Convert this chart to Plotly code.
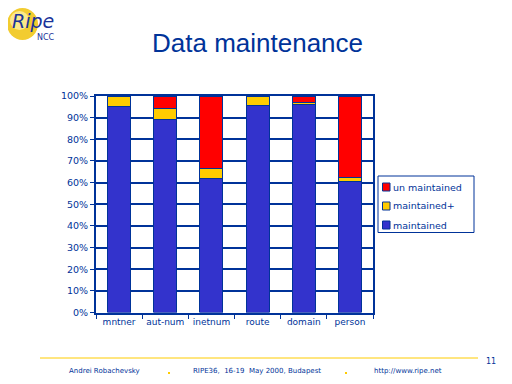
import plotly.graph_objects as go

categories = ["mntner", "aut-num", "inetnum", "route", "domain", "person"]
maintained = [95, 89, 62, 95.5, 96, 60.5]
maintained_plus = [5, 5, 4.5, 4.5, 1.2, 2]
unmaintained = [0, 6, 33.5, 0, 2.8, 37.5]
y_ticks = [0, 10, 20, 30, 40, 50, 60, 70, 80, 90, 100]
y_labels = [f"{v}%" for v in y_ticks]

NAVY = "#003399"
OFF = 8  # page body margin
W, H = 512 - OFF, 384 - OFF


def px(x):
    return (x - OFF) / W


def py(y):
    return 1 - (y - OFF) / H


series = [("maintained", maintained, "#3333CC"),
          ("maintained+", maintained_plus, "#FFCC00"),
          ("un maintained", unmaintained, "#FF0000")]

fig = go.Figure()
for name, vals, col in series:
    fig.add_trace(go.Bar(x=categories, y=vals, name=name, width=0.5, showlegend=False,
                         marker=dict(color=col, line=dict(color=NAVY, width=1))))

fig.update_layout(
    width=W, height=H, barmode="stack",
    paper_bgcolor="white", plot_bgcolor="white",
    margin=dict(l=0, r=0, t=0, b=0),
    font=dict(family="DejaVu Sans, Liberation Sans", color=NAVY),
    xaxis=dict(domain=[px(96), px(373)], showgrid=False, showline=True, automargin=False,
               linecolor=NAVY, linewidth=2, mirror=True, ticks="outside", tickangle=0,
               tickson="boundaries", ticklen=4, tickcolor=NAVY, tickwidth=1,
               tickfont=dict(size=9, color=NAVY)),
    yaxis=dict(domain=[py(312.5), py(96)], range=[0, 100], automargin=False,
               tickvals=y_ticks, ticktext=y_labels, showgrid=True,
               gridcolor=NAVY, gridwidth=1.5, showline=True, linecolor=NAVY,
               linewidth=2, mirror=True, ticks="outside", ticklen=4,
               tickcolor=NAVY, tickfont=dict(size=9.5, color=NAVY), zeroline=False),
)


def ann(text, x, y, size, xanchor="center", color=NAVY, family=None):
    f = dict(size=size, color=color)
    if family:
        f["family"] = family
    fig.add_annotation(text=text, x=px(x), y=py(y), xref="paper", yref="paper",
                       showarrow=False, xanchor=xanchor, yanchor="middle", font=f,
                       borderpad=0)


def rect(x0, x1, y0, y1, fill, line=None):
    fig.add_shape(type="rect", xref="paper", yref="paper", x0=px(x0), x1=px(x1),
                  y0=py(y1), y1=py(y0), fillcolor=fill,
                  line=line if line else dict(width=0))


# Legend (custom)
rect(378, 474, 176, 232.5, "white", dict(color=NAVY, width=1))
for i, (name, vals, col) in enumerate(reversed(series)):
    yc = 187 + i * 19
    rect(382.5, 390, yc - 4, yc + 4, col, dict(color=NAVY, width=1))
    ann(name, 392, yc, 9.5, xanchor="left")

# Title
ann("Data maintenance", 257, 43, 26, family="Liberation Sans, Arial")

# Logo
fig.add_shape(type="circle", xref="paper", yref="paper",
              x0=px(7), x1=px(38), y0=py(40), y1=py(8),
              fillcolor="#F2CC30", line=dict(width=0))
fig.add_shape(type="circle", xref="paper", yref="paper",
              x0=px(10), x1=px(29), y0=py(30), y1=py(11),
              fillcolor="#FBE88A", line=dict(width=0))
ann("<i>Ripe</i>", 33, 21, 19, color="#1a3399", family="DejaVu Sans")
ann("NCC", 46, 38, 8, color="#1a3399", family="DejaVu Sans")

# Footer
fig.add_shape(type="line", xref="paper", yref="paper", x0=px(40), x1=px(478),
              y0=py(358), y1=py(358), line=dict(color="#FFCC00", width=1))
ann("11", 491, 361, 8)
for txt, xc in [("Andrei Robachevsky", 104), ("RIPE36,  16-19  May 2000, Budapest", 257),
                ("http://www.ripe.net", 408)]:
    ann(txt, xc, 371, 7)
for xc in [169, 346]:
    rect(xc - 1, xc + 1, 372, 374, "#FFCC00")

fig.write_html("out.html")
